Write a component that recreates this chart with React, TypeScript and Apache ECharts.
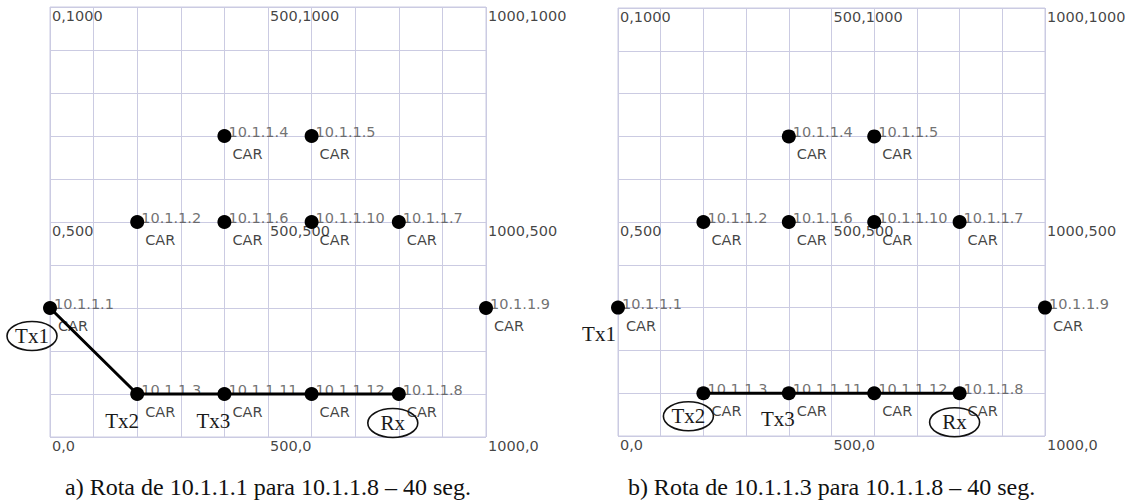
import React, { useEffect, useRef } from "react";
import * as echarts from "echarts";

// ---- data ----
const NODE_NAMES = ["10.1.1.1", "10.1.1.2", "10.1.1.3", "10.1.1.4", "10.1.1.5", "10.1.1.6", "10.1.1.7", "10.1.1.8", "10.1.1.9", "10.1.1.10", "10.1.1.11", "10.1.1.12"];
const NODE_X = [0, 200, 200, 400, 600, 400, 800, 800, 1000, 600, 400, 600];
const NODE_Y = [300, 500, 100, 700, 700, 500, 500, 100, 300, 500, 100, 100];
const NODE_TYPE = "CAR";
const ROUTE_A = ["10.1.1.1", "10.1.1.3", "10.1.1.11", "10.1.1.12", "10.1.1.8"];
const ROUTE_B = ["10.1.1.3", "10.1.1.11", "10.1.1.12", "10.1.1.8"];
const CORNER_X = [0, 500, 1000];
const CORNER_Y = [1000, 500, 0];
const CAPTIONS = ["a) Rota de 10.1.1.1 para 10.1.1.8 – 40 seg.", "b) Rota de 10.1.1.3 para 10.1.1.8 – 40 seg."];
const ANNOT_NODES = ["10.1.1.1", "10.1.1.3", "10.1.1.11", "10.1.1.8"];
const ANNOT_TEXT = ["Tx1", "Tx2", "Tx3", "Rx"];
const CIRCLED_A = [true, false, false, true];
const CIRCLED_B = [false, true, false, true];

const GRID_COLOR = "#cbcbe2";
const SANS = "DejaVu Sans";
const SERIF = "Liberation Serif";

const PANELS = [
  {
    grid: { left: 50, top: 7, width: 436, height: 430 },
    route: ROUTE_A,
    circled: CIRCLED_A,
    offsets: [[-18, 28], [-15, 27], [-11, 27], [-6, 29]],
    caption: CAPTIONS[0],
  },
  {
    grid: { left: 618, top: 8, width: 427, height: 428 },
    route: ROUTE_B,
    circled: CIRCLED_B,
    offsets: [[-19, 26], [-15, 23], [-11, 26], [-5, 29]],
    caption: CAPTIONS[1],
  },
];

function nodePoint(name: string): [number, number] {
  const i = NODE_NAMES.indexOf(name);
  return [NODE_X[i], NODE_Y[i]];
}

export default function App() {
  const ref = useRef<HTMLDivElement>(null);
  useEffect(() => {
    if (!ref.current) return;
    const chart = echarts.init(ref.current, undefined, { renderer: "svg" });

    const nodeData = NODE_NAMES.map((n, i) => ({ name: n, value: [NODE_X[i], NODE_Y[i]] }));
    const cornerData: any[] = [];
    CORNER_Y.forEach((y) => CORNER_X.forEach((x) => cornerData.push({ value: [x, y], name: `${x},${y}` })));

    const axisCommon = {
      type: "value",
      min: 0,
      max: 1000,
      interval: 100,
      axisLabel: { show: false },
      axisTick: { show: false },
      axisLine: { show: false },
      splitLine: { show: true, lineStyle: { color: GRID_COLOR, width: 1 } },
    };

    const series: any[] = [];
    PANELS.forEach((p, pi) => {
      series.push({
        type: "scatter",
        xAxisIndex: pi,
        yAxisIndex: pi,
        z: 1,
        symbolSize: 14,
        itemStyle: { color: "transparent" },
        data: nodeData,
        label: {
          show: true,
          position: [11, -8],
          align: "left",
          verticalAlign: "top",
          formatter: (d: any) => `{a|${d.name}}\n{b|${NODE_TYPE}}`,
          rich: {
            a: { fontFamily: SANS, fontSize: 14.5, color: "#4d4d4d", lineHeight: 22 },
            b: { fontFamily: SANS, fontSize: 14.5, color: "#111", lineHeight: 22, padding: [0, 0, 0, 4] },
          },
        },
      });
      series.push({
        type: "scatter",
        xAxisIndex: pi,
        yAxisIndex: pi,
        z: 1,
        symbolSize: 0,
        data: cornerData,
        label: {
          show: true,
          position: [2, 9],
          align: "left",
          verticalAlign: "middle",
          formatter: (d: any) => d.name,
          fontFamily: SANS,
          fontSize: 14.5,
          color: "#111",
        },
      });
      series.push({
        type: "line",
        xAxisIndex: pi,
        yAxisIndex: pi,
        z: 2,
        symbol: "none",
        lineStyle: { color: "#000", width: 3, opacity: 1 },
        data: p.route.map(nodePoint),
      });
      series.push({
        type: "scatter",
        xAxisIndex: pi,
        yAxisIndex: pi,
        z: 3,
        symbolSize: 14,
        itemStyle: { color: "#000", opacity: 1 },
        data: nodeData.map((d) => d.value),
      });
    });

    chart.setOption({
      animation: false,
      backgroundColor: "#fff",
      grid: PANELS.map((p) => ({ ...p.grid, show: true, borderColor: GRID_COLOR, borderWidth: 1, backgroundColor: "transparent" })),
      xAxis: PANELS.map((_, i) => ({ ...axisCommon, gridIndex: i })),
      yAxis: PANELS.map((_, i) => ({ ...axisCommon, gridIndex: i })),
      series,
    });

    const graphics: any[] = [];
    PANELS.forEach((p, pi) => {
      ANNOT_NODES.forEach((n, k) => {
        const px = chart.convertToPixel({ gridIndex: pi }, nodePoint(n)) as number[];
        const cx = px[0] + p.offsets[k][0];
        const cy = px[1] + p.offsets[k][1];
        if (p.circled[k]) {
          graphics.push({
            type: "ellipse",
            shape: { cx, cy, rx: 25, ry: 14.5 },
            style: { fill: "none", stroke: "#111", lineWidth: 1.6 },
            z: 10,
          });
        }
        graphics.push({
          type: "text",
          x: cx,
          y: cy,
          z: 11,
          style: {
            text: ANNOT_TEXT[k],
            fontFamily: SERIF,
            fontSize: 21,
            fill: "#1a1a1a",
            align: "center",
            verticalAlign: "middle",
          },
        });
      });
      graphics.push({
        type: "text",
        x: p.grid.left + p.grid.width / 2,
        y: 487,
        style: {
          text: p.caption,
          fontFamily: SERIF,
          fontSize: 24,
          fill: "#111",
          align: "center",
          verticalAlign: "middle",
        },
      });
    });
    chart.setOption({ graphic: graphics });

    return () => chart.dispose();
  }, []);

  return (
    <div
      ref={ref}
      style={{ position: "fixed", left: 0, top: 0, width: 1136, height: 501, background: "#fff" }}
    />
  );
}
